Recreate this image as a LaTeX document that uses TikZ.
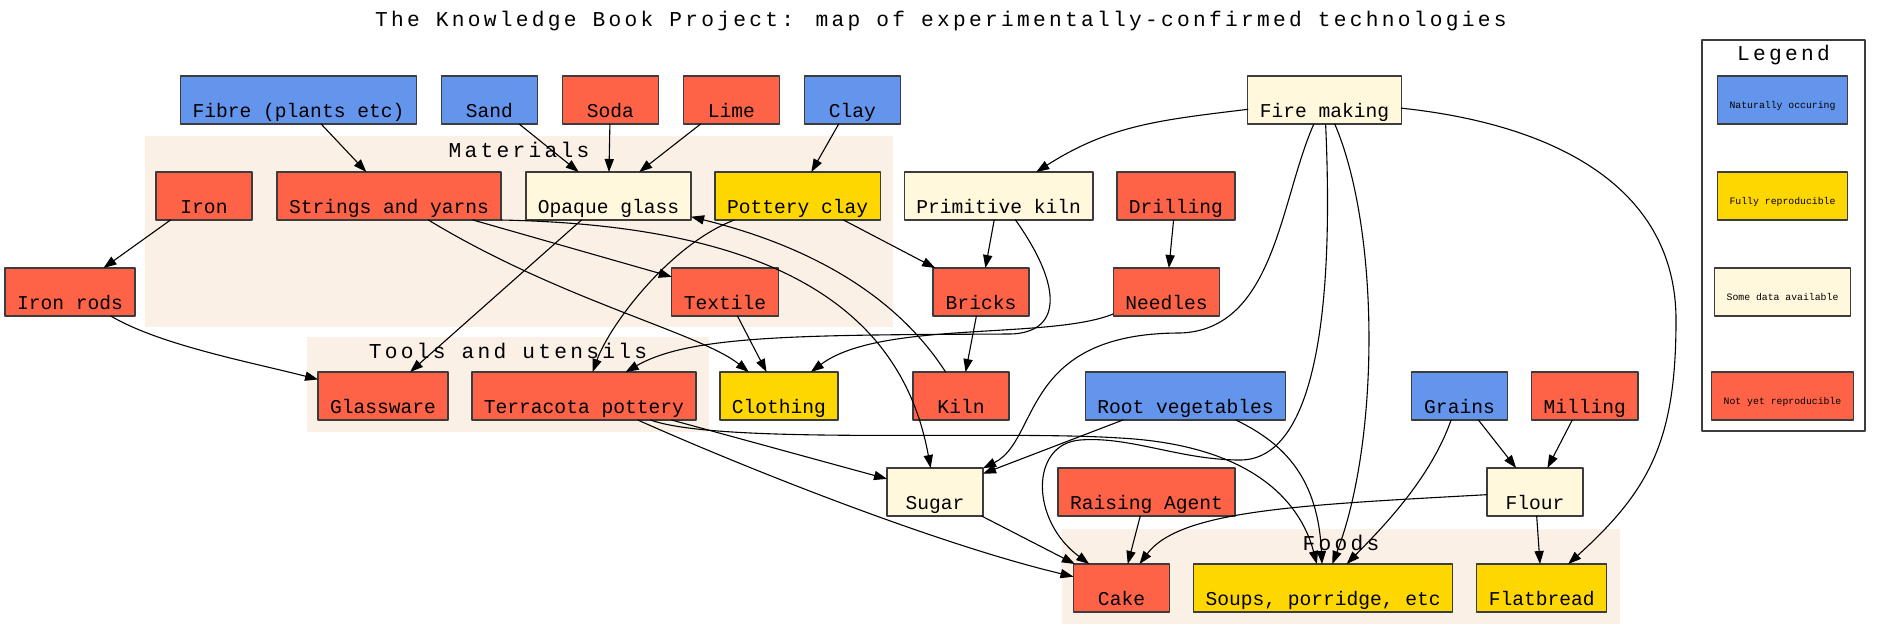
\documentclass[tikz,border=0pt]{standalone}
\usepackage{fontspec}
\setmonofont{Liberation Mono}
\newfontfamily\headfamily{Liberation Mono}[LetterSpace=15.5]
\usepackage{tikz}
\usetikzlibrary{arrows.meta,positioning}
\definecolor{natural}{HTML}{6495ED}
\definecolor{fullrepro}{HTML}{FFD700}
\definecolor{somedata}{HTML}{FFF8DC}
\definecolor{notyet}{HTML}{FF6347}
\definecolor{linen}{HTML}{FAF0E6}
\definecolor{boxline}{HTML}{3C3C3C}
\newcommand{\techfont}{\ttfamily\fontsize{9.8}{11}\selectfont}
\newcommand{\headfont}{\headfamily\fontsize{10.6}{13}\selectfont}
\newcommand{\keyfont}{\ttfamily\fontsize{4.9}{6}\selectfont}
\tikzset{
    every picture/.style={line cap=round,line join=round},
    techbox/.style={draw=boxline,line width=0.65pt,font=\techfont,
      minimum width=48pt,inner xsep=6pt,inner ysep=0pt,outer sep=0pt,
      text height=20.5pt,text depth=3.5pt},
    natbox/.style={techbox,fill=natural},
    fullbox/.style={techbox,fill=fullrepro},
    somebox/.style={techbox,fill=somedata},
    notbox/.style={techbox,fill=notyet},
    keybox/.style={techbox,font=\keyfont,text height=16pt,text depth=8pt},
    clusterlabel/.style={font=\headfont,inner sep=0pt,anchor=base},
    flowarrow/.style={-{Triangle[length=6.5pt,width=4.6pt]},draw=black,
      line width=0.55pt}
}
\begin{document}
\begin{tikzpicture}[x=0.5pt,y=-0.5pt]
  \useasboundingbox (0,0) rectangle (1882,639);
  \fill[linen] (145,136) rectangle (893,327);
  \fill[linen] (307,337) rectangle (709,432);
  \fill[linen] (1062,529) rectangle (1620,624);
  \draw[draw=boxline,line width=0.65pt,fill=white] (1702,40) rectangle (1865,431);

  \node[clusterlabel] (title) at (941,26)
    {The Knowledge Book Project: map of experimentally-confirmed technologies};
  \node[clusterlabel] (materials) at (519,157) {Materials};
  \node[clusterlabel] (tools) at (508,358) {Tools and utensils};
  \node[clusterlabel] (foods) at (1341,550) {Foods};
  \node[clusterlabel] (legend) at (1783.5,60) {Legend};

  \node[natbox] (fibre) at (298.5,100) {Fibre (plants etc)};
  \node[natbox,right=12.5pt of fibre] (sand) {Sand};
  \node[notbox,right=12.5pt of sand] (soda) {Soda};
  \node[notbox,right=12.5pt of soda] (lime) {Lime};
  \node[natbox,right=12.5pt of lime] (clay) {Clay};
  \node[somebox] (fire) at (1324.5,100) {Fire making};

  \node[notbox] (iron) at (204,196) {Iron};
  \node[notbox,right=12.5pt of iron] (strings) {Strings and yarns};
  \node[somebox,right=12.5pt of strings] (opaque) {Opaque glass};
  \node[fullbox,right=12pt of opaque] (potclay) {Pottery clay};
  \node[somebox,right=12pt of potclay] (primkiln) {Primitive kiln};
  \node[notbox,right=12pt of primkiln] (drilling) {Drilling};

  \node[notbox] (ironrods) at (70,292) {Iron rods};
  \node[notbox] (textile) at (725,292) {Textile};
  \node[notbox] (bricks) at (981,292) {Bricks};
  \node[notbox] (needles) at (1166.5,292) {Needles};

  \node[notbox] (glassware) at (383,396) {Glassware};
  \node[notbox,right=12pt of glassware] (terracota) {Terracota pottery};
  \node[fullbox,right=12pt of terracota] (clothing) {Clothing};
  \node[notbox] (kiln) at (961,396) {Kiln};
  \node[natbox] (rootveg) at (1185.5,396) {Root vegetables};
  \node[natbox] (grains) at (1459.5,396) {Grains};
  \node[notbox,right=12pt of grains] (milling) {Milling};

  \node[somebox] (sugar) at (935,492) {Sugar};
  \node[notbox] (raising) at (1146.5,492) {Raising Agent};
  \node[somebox] (flour) at (1535,492) {Flour};

  \node[notbox] (cake) at (1121.5,588) {Cake};
  \node[fullbox,right=12pt of cake] (soups) {Soups, porridge, etc};
  \node[fullbox,right=12pt of soups] (flatbread) {Flatbread};

  \node[keybox,fill=natural] (keynat) at (1782.5,100) {Naturally occuring};
  \node[keybox,fill=fullrepro] (keyfull) at (1782.5,196) {Fully reproducible};
  \node[keybox,fill=somedata] (keysome) at (1782.5,292) {Some data available};
  \node[keybox,fill=notyet] (keynot) at (1782.5,396) {Not yet reproducible};

  \draw[flowarrow] (fibre) -- (strings);
  \draw[flowarrow] (sand) -- (opaque);
  \draw[flowarrow] (soda) -- (opaque);
  \draw[flowarrow] (lime) -- (opaque);
  \draw[flowarrow] (clay) -- (potclay);
  \draw[flowarrow] (iron) -- (ironrods);
  \draw[flowarrow] (fire) .. controls (1160,120) and (1110,125) .. (primkiln);
  \draw[flowarrow] (strings) -- (textile);
  \draw[flowarrow] (strings) .. controls (560,300) and (700,333) .. (clothing);
  \draw[flowarrow] (strings.south east) .. controls (760,225) and (900,300) .. (sugar);
  \draw[flowarrow] (opaque) -- (glassware);
  \draw[flowarrow] (potclay) .. controls (671,244) and (610,324) .. (terracota);
  \draw[flowarrow] (potclay) -- (bricks);
  \draw[flowarrow] (primkiln) -- (bricks);
  \draw[flowarrow] (primkiln) .. controls (1065,290) and (1060,333) .. (1010,334)
    .. controls (800,335) and (690,335) .. (terracota);
  \draw[flowarrow] (drilling) -- (needles);
  \draw[flowarrow] (ironrods) .. controls (160,345) and (250,362) .. (glassware);
  \draw[flowarrow] (textile) -- (clothing);
  \draw[flowarrow] (bricks) -- (kiln);
  \draw[flowarrow] (needles) .. controls (1050,340) and (880,320) .. (clothing);
  \draw[flowarrow] (kiln) .. controls (880,270) and (760,234) .. (opaque);

  \draw[flowarrow] (terracota) -- (sugar);
  \draw[flowarrow] (terracota) .. controls (750,470) and (940,545) .. (cake);
  \draw[flowarrow] (terracota) .. controls (720,445) and (1000,430) .. (1120,438)
    .. controls (1250,445) and (1300,500) .. (soups);
  \draw[flowarrow] (rootveg) -- (sugar);
  \draw[flowarrow] (rootveg) .. controls (1286,444) and (1318,480) .. (soups);
  \draw[flowarrow] (fire) .. controls (1280,200) and (1275,330) .. (1180,333)
    .. controls (1020,333) and (1040,440) .. (sugar);
  \draw[flowarrow] (fire) .. controls (1335,330) and (1310,460) .. (1240,460)
    .. controls (1180,460) and (1130,436) .. (1080,440)
    .. controls (1030,444) and (1030,520) .. (cake);
  \draw[flowarrow] (fire) .. controls (1380,230) and (1380,440) .. (soups);
  \draw[flowarrow] (fire) .. controls (1560,125) and (1676,190) .. (1676,320)
    .. controls (1676,440) and (1650,490) .. (flatbread);
  \draw[flowarrow] (grains) -- (flour);
  \draw[flowarrow] (milling) -- (flour);
  \draw[flowarrow] (grains) .. controls (1430,480) and (1380,530) .. (soups);
  \draw[flowarrow] (sugar) -- (cake);
  \draw[flowarrow] (raising) -- (cake);
  \draw[flowarrow] (flour) .. controls (1300,505) and (1180,510) .. (cake);
  \draw[flowarrow] (flour) -- (flatbread);
\end{tikzpicture}
\end{document}
